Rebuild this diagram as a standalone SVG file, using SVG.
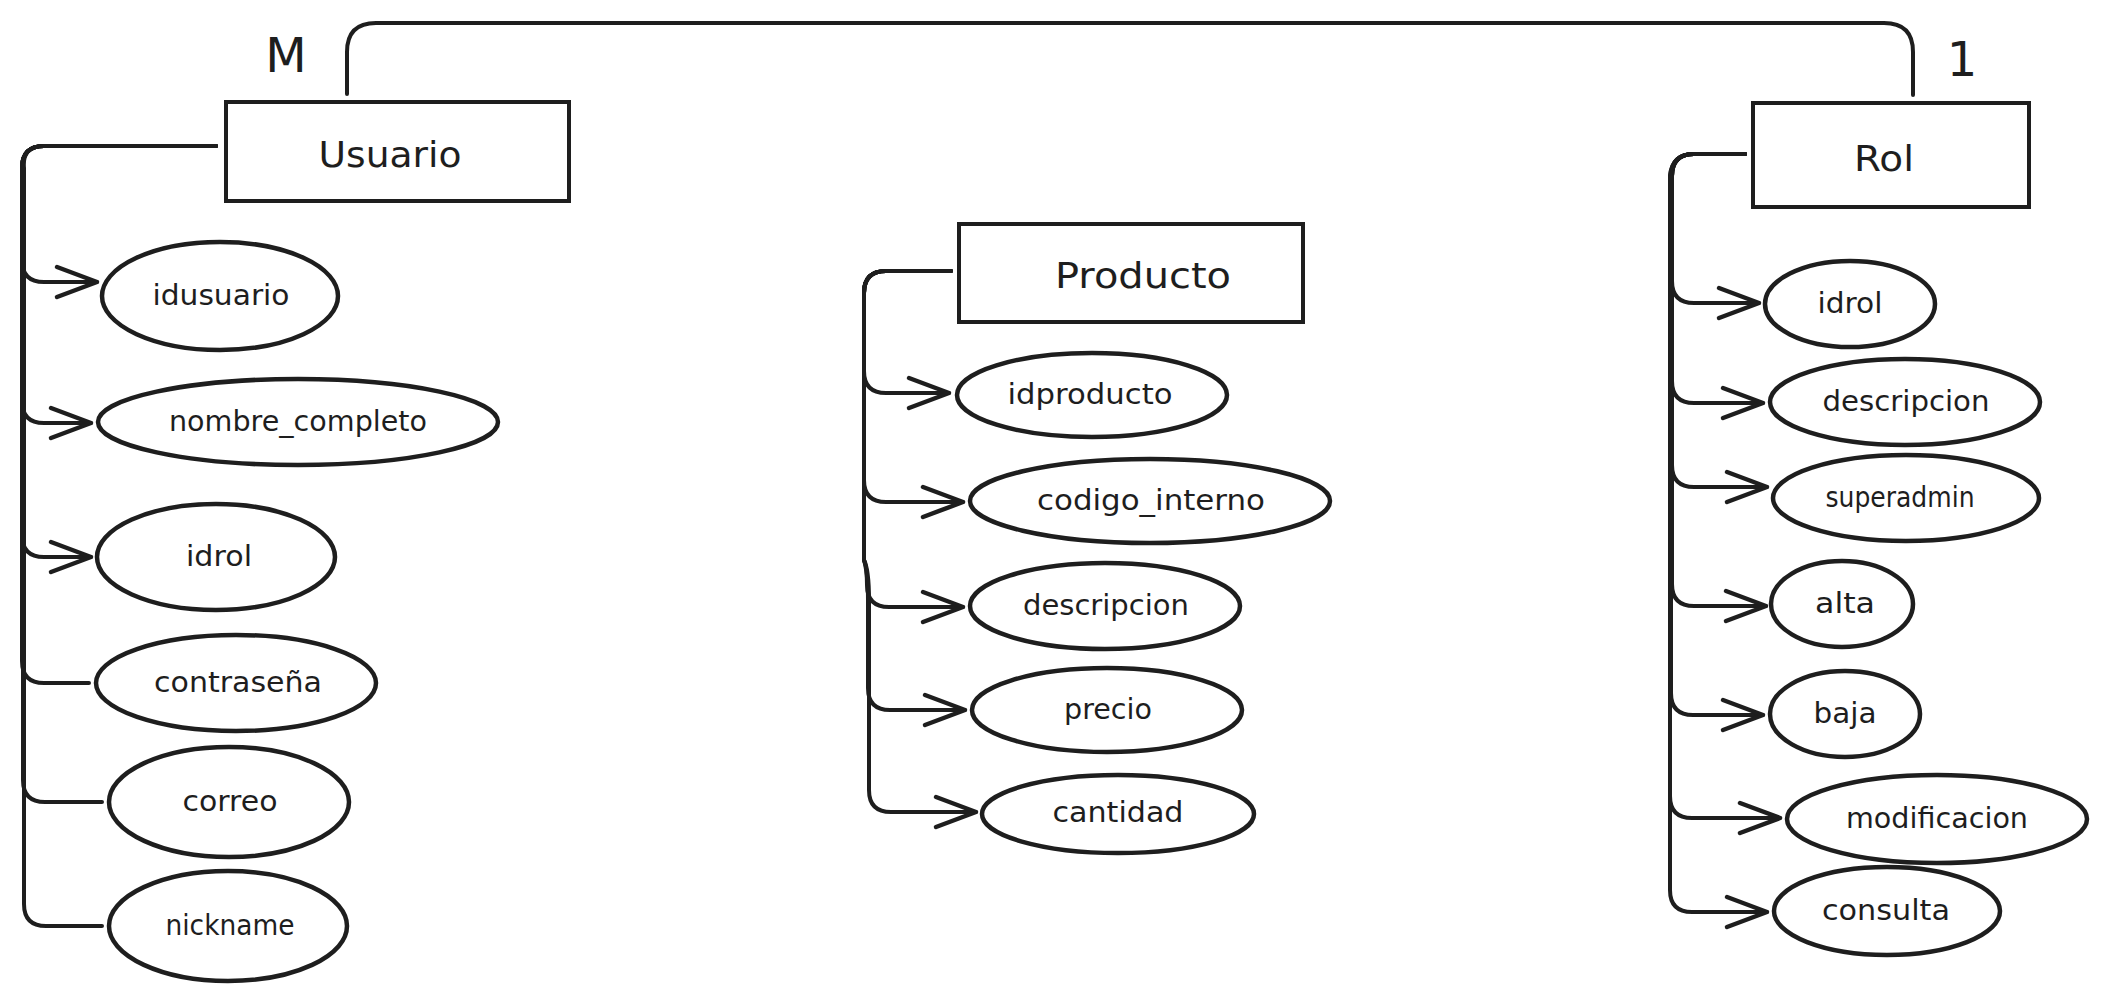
<svg xmlns="http://www.w3.org/2000/svg" width="2106" height="1001" viewBox="0 0 2106 1001">
<style>
.bg{fill:#ffffff}
.ent{fill:#ffffff;stroke:#1e1e1e;stroke-width:4}
.att{fill:#ffffff;stroke:#1e1e1e;stroke-width:4.5}
.con{fill:none;stroke:#1e1e1e;stroke-width:4;stroke-linecap:round;stroke-linejoin:round}
.et{font-family:"DejaVu Sans","Liberation Sans",sans-serif;font-size:36px;fill:#1e1e1e;text-anchor:middle}
.at{font-family:"DejaVu Sans","Liberation Sans",sans-serif;font-size:28px;fill:#1e1e1e;text-anchor:middle}
.card{font-family:"DejaVu Sans","Liberation Sans",sans-serif;font-size:48px;fill:#1e1e1e;text-anchor:middle}
</style>
<defs>
<marker id="arr" markerUnits="userSpaceOnUse" viewBox="-44 -22 48 44" refX="0" refY="0" markerWidth="48" markerHeight="44" orient="auto" overflow="visible">
<path d="M -40,-15 L 0,0 L -40,15" fill="none" stroke="#1e1e1e" stroke-width="4.5" stroke-linecap="round" stroke-linejoin="round"/>
</marker>
</defs>
<rect class="bg" x="0" y="0" width="2106" height="1001"/>

<g id="connectors">
<path id="rel-usuario-rol" class="con" d="M347,94 V52 Q347,23 376,23 H1884 Q1913,23 1913,52 V95"/>
<!-- Usuario -->
<path class="con" marker-end="url(#arr)" d="M216,146 H44 Q22,146 22,168 V260 Q22,282 44,282 H97"/>
<path class="con" marker-end="url(#arr)" d="M216,146 H44 Q22,146 22,168 V401 Q22,423 44,423 H91"/>
<path class="con" marker-end="url(#arr)" d="M216,146 H44 Q22,146 22,168 V535 Q22,557 44,557 H91"/>
<path class="con" d="M216,146 H44 Q22,146 22,168 V661 Q22,683 44,683 H89"/>
<path class="con" d="M216,146 H44 Q22,146 23,168 V780 Q23,802 45,802 H102"/>
<path class="con" d="M216,146 H44 Q22,146 24,168 V904 Q24,926 46,926 H102"/>
<!-- Producto -->
<path class="con" marker-end="url(#arr)" d="M951,271 H886 Q864,271 864,293 V371 Q864,393 886,393 H949"/>
<path class="con" marker-end="url(#arr)" d="M951,271 H886 Q864,271 864,293 V480 Q864,502 886,502 H963"/>
<path class="con" marker-end="url(#arr)" d="M951,271 H886 Q864,271 864,293 V560 Q867,570 867,585 Q867,607 889,607 H963"/>
<path class="con" marker-end="url(#arr)" d="M951,271 H886 Q864,271 864,293 V560 Q868,570 868,600 V688 Q868,710 890,710 H965"/>
<path class="con" marker-end="url(#arr)" d="M951,271 H886 Q864,271 864,293 V560 Q869,570 869,600 V790 Q869,812 891,812 H976"/>
<!-- Rol -->
<path class="con" marker-end="url(#arr)" d="M1745,154 H1694 Q1672,154 1672,176 V281 Q1672,303 1694,303 H1759"/>
<path class="con" marker-end="url(#arr)" d="M1745,154 H1694 Q1672,154 1672,176 V381 Q1672,403 1694,403 H1763"/>
<path class="con" marker-end="url(#arr)" d="M1745,154 H1694 Q1672,154 1672,176 V465 Q1672,487 1694,487 H1767"/>
<path class="con" marker-end="url(#arr)" d="M1745,154 H1694 Q1672,154 1672,176 V584 Q1672,606 1694,606 H1766"/>
<path class="con" marker-end="url(#arr)" d="M1745,154 H1694 Q1672,154 1671,176 V693 Q1671,715 1693,715 H1763"/>
<path class="con" marker-end="url(#arr)" d="M1745,154 H1694 Q1672,154 1670,176 V796 Q1670,818 1692,818 H1780"/>
<path class="con" marker-end="url(#arr)" d="M1745,154 H1694 Q1672,154 1670,176 V890 Q1670,912 1692,912 H1767"/>
</g>

<g id="label-M"><text class="card" x="286" y="72">M</text></g>
<g id="label-1"><text class="card" x="1962" y="76">1</text></g>

<g id="node-usuario">
<rect class="ent" x="226" y="102" width="343" height="99"/>
<text class="et" x="390" y="167" textLength="143" lengthAdjust="spacingAndGlyphs">Usuario</text>
</g>
<g id="node-usuario-idusuario">
<ellipse class="att" cx="220" cy="296" rx="118" ry="54"/>
<text class="at" x="221" y="305" textLength="137" lengthAdjust="spacingAndGlyphs">idusuario</text>
</g>
<g id="node-usuario-nombre_completo">
<ellipse class="att" cx="298" cy="422" rx="200" ry="43"/>
<text class="at" x="298" y="431" textLength="258" lengthAdjust="spacingAndGlyphs">nombre_completo</text>
</g>
<g id="node-usuario-idrol">
<ellipse class="att" cx="216" cy="557" rx="119" ry="53"/>
<text class="at" x="219" y="566" textLength="66" lengthAdjust="spacingAndGlyphs">idrol</text>
</g>
<g id="node-usuario-contrasena">
<ellipse class="att" cx="236" cy="683" rx="140" ry="48"/>
<text class="at" x="238" y="692" textLength="168" lengthAdjust="spacingAndGlyphs">contraseña</text>
</g>
<g id="node-usuario-correo">
<ellipse class="att" cx="229" cy="802" rx="120" ry="55"/>
<text class="at" x="230" y="811" textLength="95" lengthAdjust="spacingAndGlyphs">correo</text>
</g>
<g id="node-usuario-nickname">
<ellipse class="att" cx="228" cy="926" rx="119" ry="55"/>
<text class="at" x="230" y="935" textLength="129" lengthAdjust="spacingAndGlyphs">nickname</text>
</g>

<g id="node-producto">
<rect class="ent" x="959" y="224" width="344" height="98"/>
<text class="et" x="1143" y="288" textLength="176" lengthAdjust="spacingAndGlyphs">Producto</text>
</g>
<g id="node-producto-idproducto">
<ellipse class="att" cx="1092" cy="395" rx="135" ry="42"/>
<text class="at" x="1090" y="404" textLength="165" lengthAdjust="spacingAndGlyphs">idproducto</text>
</g>
<g id="node-producto-codigo_interno">
<ellipse class="att" cx="1150" cy="501" rx="180" ry="42"/>
<text class="at" x="1151" y="510" textLength="228" lengthAdjust="spacingAndGlyphs">codigo_interno</text>
</g>
<g id="node-producto-descripcion">
<ellipse class="att" cx="1105" cy="606" rx="135" ry="43"/>
<text class="at" x="1106" y="615" textLength="166" lengthAdjust="spacingAndGlyphs">descripcion</text>
</g>
<g id="node-producto-precio">
<ellipse class="att" cx="1107" cy="710" rx="135" ry="42"/>
<text class="at" x="1108" y="719" textLength="88" lengthAdjust="spacingAndGlyphs">precio</text>
</g>
<g id="node-producto-cantidad">
<ellipse class="att" cx="1118" cy="814" rx="136" ry="39"/>
<text class="at" x="1118" y="822" textLength="131" lengthAdjust="spacingAndGlyphs">cantidad</text>
</g>

<g id="node-rol">
<rect class="ent" x="1753" y="103" width="276" height="104"/>
<text class="et" x="1884" y="171" textLength="60" lengthAdjust="spacingAndGlyphs">Rol</text>
</g>
<g id="node-rol-idrol">
<ellipse class="att" cx="1850" cy="304" rx="85" ry="43"/>
<text class="at" x="1850" y="313" textLength="65" lengthAdjust="spacingAndGlyphs">idrol</text>
</g>
<g id="node-rol-descripcion">
<ellipse class="att" cx="1905" cy="402" rx="135" ry="43"/>
<text class="at" x="1906" y="411" textLength="167" lengthAdjust="spacingAndGlyphs">descripcion</text>
</g>
<g id="node-rol-superadmin">
<ellipse class="att" cx="1906" cy="498" rx="133" ry="43"/>
<text class="at" x="1900" y="507" textLength="149" lengthAdjust="spacingAndGlyphs">superadmin</text>
</g>
<g id="node-rol-alta">
<ellipse class="att" cx="1842" cy="604" rx="71" ry="43"/>
<text class="at" x="1845" y="613" textLength="60" lengthAdjust="spacingAndGlyphs">alta</text>
</g>
<g id="node-rol-baja">
<ellipse class="att" cx="1845" cy="714" rx="75" ry="43"/>
<text class="at" x="1845" y="723" textLength="63" lengthAdjust="spacingAndGlyphs">baja</text>
</g>
<g id="node-rol-modificacion">
<ellipse class="att" cx="1937" cy="819" rx="150" ry="44"/>
<text class="at" x="1937" y="828" textLength="182" lengthAdjust="spacingAndGlyphs">modificacion</text>
</g>
<g id="node-rol-consulta">
<ellipse class="att" cx="1887" cy="911" rx="113" ry="44"/>
<text class="at" x="1886" y="920" textLength="128" lengthAdjust="spacingAndGlyphs">consulta</text>
</g>
</svg>
